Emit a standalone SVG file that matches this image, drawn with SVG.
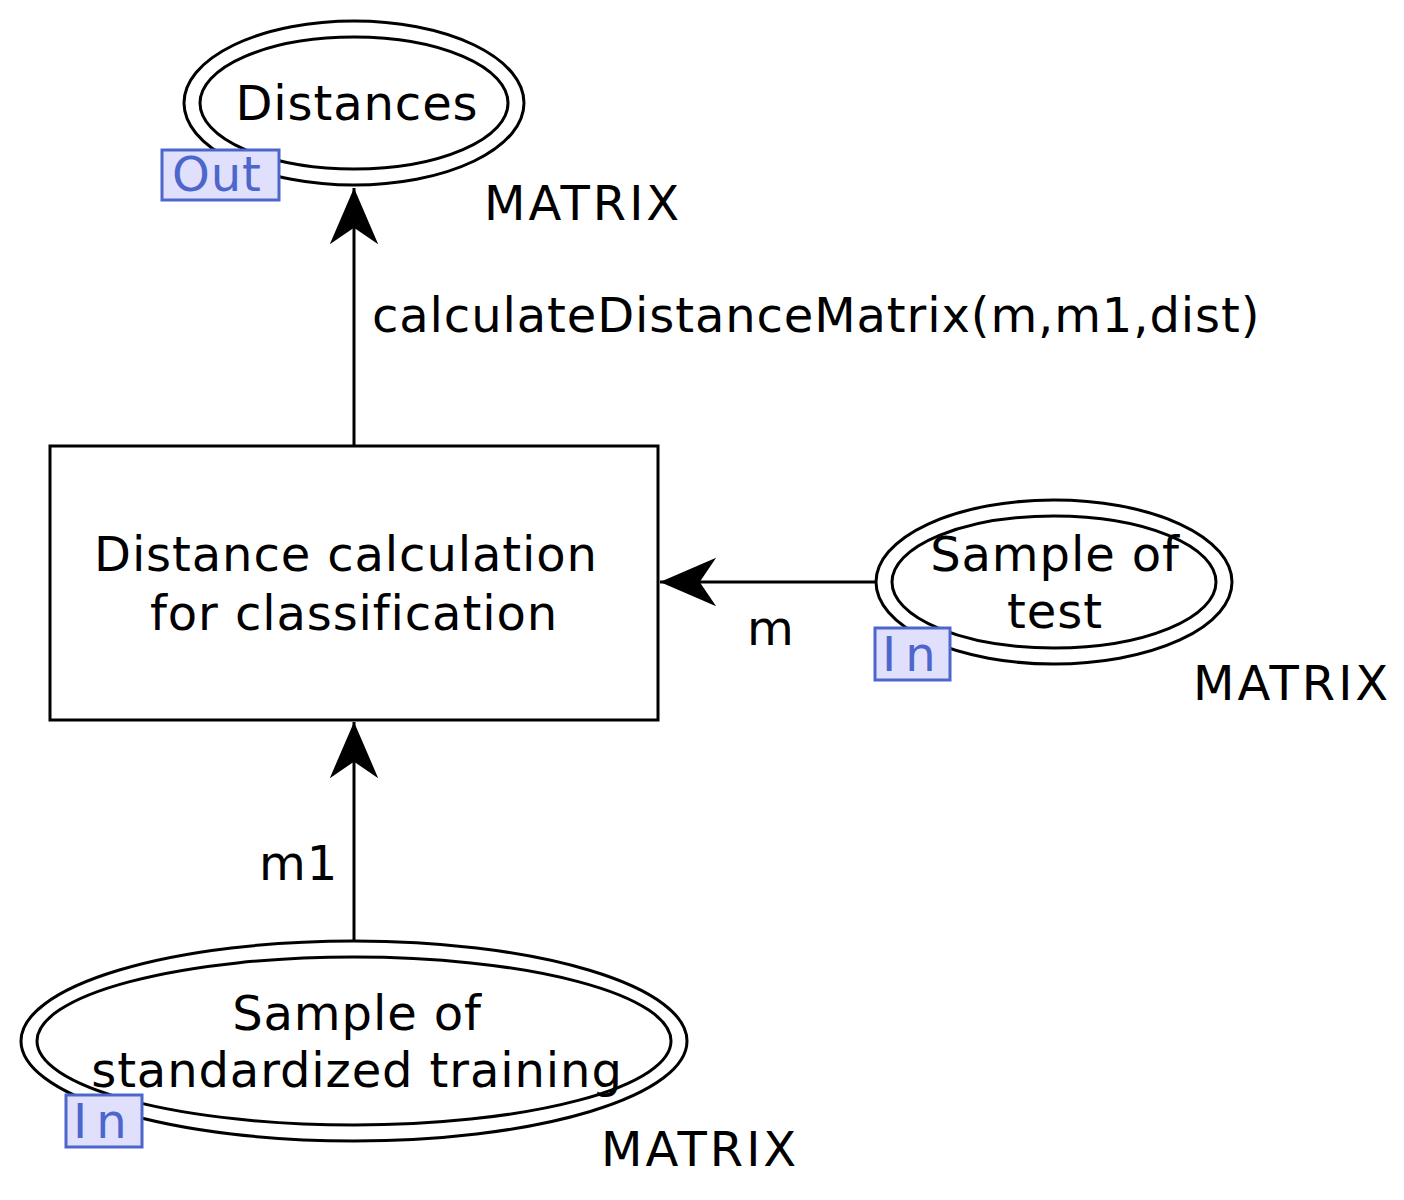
<svg xmlns="http://www.w3.org/2000/svg" width="1404" height="1200" viewBox="0 0 1404 1200">
<style>
text{font-family:"DejaVu Sans",sans-serif;font-size:48px;fill:#000;letter-spacing:0.9px}
.c{text-anchor:middle}
.mx{letter-spacing:3px}
.n{fill:none;stroke:#000;stroke-width:3}
.tag rect{fill:#e0e0fc;stroke:#4d66cc;stroke-width:3}
.tag text{fill:#4d66cc}
.tag text.in{letter-spacing:9px}
.e{fill:none;stroke:#000;stroke-width:3}
</style>
<defs>
<marker id="ah" markerUnits="userSpaceOnUse" markerWidth="60" markerHeight="60" viewBox="-60 -30 62 60" refX="0" refY="0" orient="auto">
<path d="M0,0 L-58,-25 L-41,0 L-58,25 Z" fill="#000"/>
</marker>
</defs>
<rect width="1404" height="1200" fill="#fff"/>
<g id="connectors">
<line class="e" x1="354" y1="445" x2="354" y2="188" marker-end="url(#ah)"/>
<text x="372" y="332">calculateDistanceMatrix(m,m1,dist)</text>
<line class="e" x1="876" y1="582" x2="660" y2="582" marker-end="url(#ah)"/>
<text x="747" y="645">m</text>
<line class="e" x1="354" y1="941" x2="354" y2="722" marker-end="url(#ah)"/>
<text x="259" y="880">m1</text>
</g>
<g id="distances">
<ellipse class="n" cx="354" cy="103" rx="170" ry="82"/>
<ellipse class="n" cx="354" cy="103" rx="154" ry="66"/>
<text class="c" x="357" y="120">Distances</text>
<g class="tag"><rect x="162" y="150" width="117" height="50"/><text x="172" y="191">Out</text></g>
<text class="mx" x="484" y="220">MATRIX</text>
</g>
<g id="transition">
<rect class="n" x="50" y="446" width="608" height="274"/>
<text class="c" x="354" y="571" xml:space="preserve">Distance calculation </text>
<text class="c" x="354" y="630">for classification</text>
</g>
<g id="sample_test">
<ellipse class="n" cx="1054" cy="582" rx="178" ry="82"/>
<ellipse class="n" cx="1054" cy="582" rx="162" ry="66"/>
<text class="c" x="1055" y="571">Sample of</text>
<text class="c" x="1055" y="628">test</text>
<g class="tag"><rect x="875" y="628" width="75" height="52"/><text class="in" x="882" y="671">In</text></g>
<text class="mx" x="1193" y="700">MATRIX</text>
</g>
<g id="sample_training">
<ellipse class="n" cx="354" cy="1041" rx="333" ry="100"/>
<ellipse class="n" cx="354" cy="1041" rx="317" ry="84"/>
<text class="c" x="357" y="1030">Sample of</text>
<text class="c" x="357" y="1087">standardized training</text>
<g class="tag"><rect x="66" y="1095" width="76" height="52"/><text class="in" x="73" y="1138">In</text></g>
<text class="mx" x="601" y="1166">MATRIX</text>
</g>
</svg>
